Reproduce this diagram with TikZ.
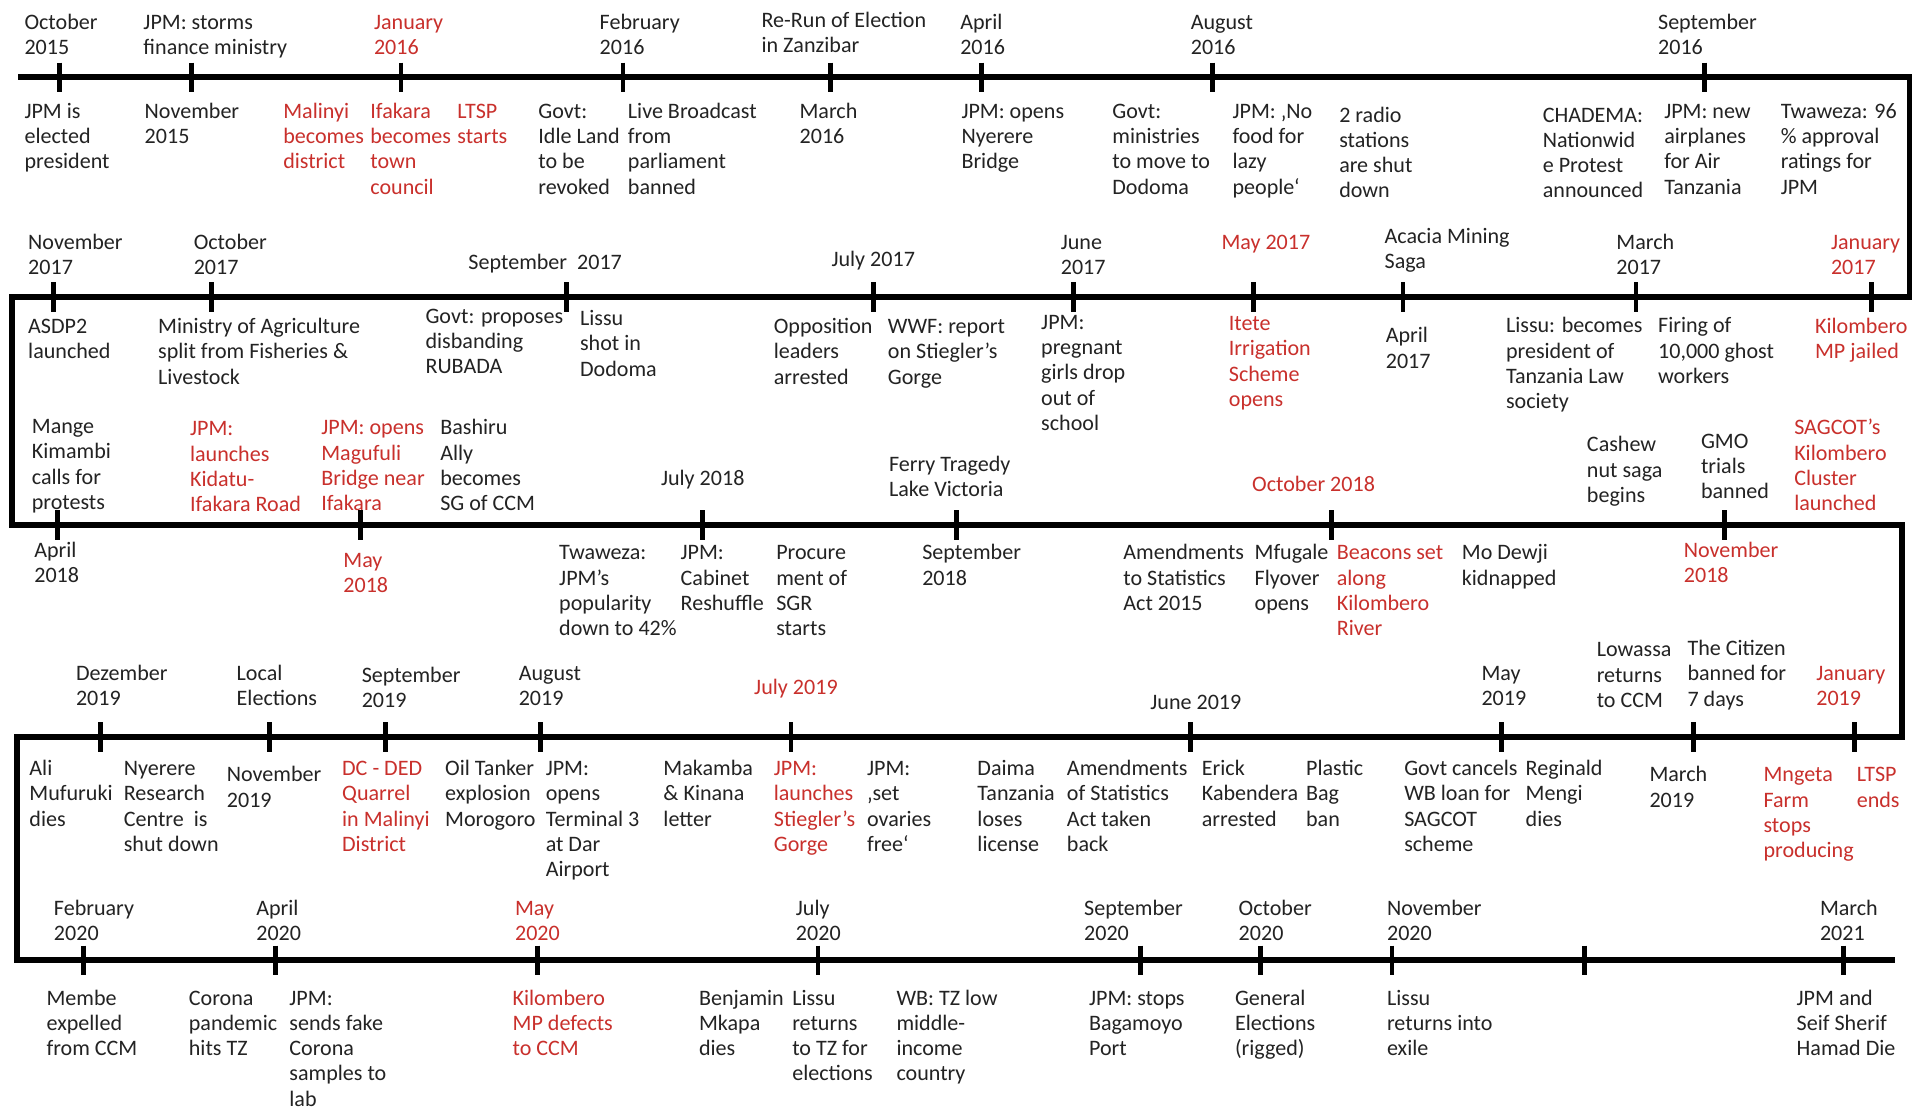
\documentclass[tikz,border=0pt]{standalone}
\usepackage{fontspec}
\setmainfont{Carlito}
\definecolor{ink}{RGB}{35,35,35}
\definecolor{hot}{RGB}{201,48,44}
% multi-line label whose reference point is the first baseline
\newcommand\tl[1]{\begin{tabular}[t]{@{}l@{}}#1\end{tabular}}
\tikzset{
  ev/.style={anchor=base west, inner sep=0pt, outer sep=0pt, text=ink,
             font=\fontsize{9}{10.3}\selectfont},
  evr/.style={ev, text=hot},
  tlpath/.style={line width=2.4pt, draw=black, line join=miter},
  tickmark/.style={line width=2pt, draw=black},
}
\begin{document}
\begin{tikzpicture}[x=0.5pt,y=-0.5pt]
\useasboundingbox[fill=white] (0,0) rectangle (1568,904);

% the snaking time line
\coordinate (c0) at (15,63);
\coordinate (c1) at (1557,63);
\coordinate (c2) at (1557,242);
\coordinate (c3) at (10,242);
\coordinate (c4) at (10,428);
\coordinate (c5) at (1551,428);
\coordinate (c6) at (1551,601);
\coordinate (c7) at (14,601);
\coordinate (c8) at (14,783);
\coordinate (c9) at (1545,783);
\draw[tlpath] (c0) -- (c1) -- (c2) -- (c3) -- (c4) -- (c5) -- (c6) -- (c7) -- (c8) -- (c9);

% month ticks
\foreach \x in {48.5,156,327,508,677,800,989,1390}
  \draw[tickmark] (\x,51) -- (\x,75);
\foreach \x in {43.5,172.5,462,712,875.5,1022,1144,1334,1526}
  \draw[tickmark] (\x,230) -- (\x,254);
\foreach \x in {47,294,573,780,1086,1406}
  \draw[tickmark] (\x,416) -- (\x,440);
\foreach \x in {82,220,314,441,645,971,1224,1381,1512}
  \draw[tickmark] (\x,589) -- (\x,613);
\foreach \x in {68,225,438,667,930,1028,1135,1292,1503}
  \draw[tickmark] (\x,771) -- (\x,795);

% ---- 2015 / 2016 ----
\node[ev]  (a1) at (20,24)    {\tl{October\\2015}};
\node[ev]  (a2) at (117,24)   {\tl{JPM: storms\\finance ministry}};
\node[evr] (a3) at (305,24)   {\tl{January\\2016}};
\node[ev]  (a4) at (489,24)   {\tl{February\\2016}};
\node[ev]  (a5) at (621,22.5) {\tl{Re-Run of Election\\in Zanzibar}};
\node[ev]  (a6) at (783,24)   {\tl{April\\2016}};
\node[ev]  (a7) at (971,24)   {\tl{August\\2016}};
\node[ev]  (a8) at (1352,24)  {\tl{September\\2016}};

\node[ev]  (b1)  at (20,96.5)   {\tl{JPM is\\elected\\president}};
\node[ev]  (b2)  at (118,96.5)  {\tl{November\\2015}};
\node[evr] (b3)  at (231,96.5)  {\tl{Malinyi\\becomes\\district}};
\node[evr] (b4)  at (302,96.5)  {\tl{Ifakara\\becomes\\town\\council}};
\node[evr] (b5)  at (373,96.5)  {\tl{LTSP\\starts}};
\node[ev]  (b6)  at (439,96.5)  {\tl{Govt:\\Idle Land\\to be\\revoked}};
\node[ev]  (b7)  at (512,96.5)  {\tl{Live Broadcast\\from\\parliament\\banned}};
\node[ev]  (b8)  at (652,96.5)  {\tl{March\\2016}};
\node[ev]  (b9)  at (784,96.5)  {\tl{JPM: opens\\Nyerere\\Bridge}};
\node[ev]  (b10) at (907,96.5)  {\tl{Govt:\\ministries\\to move to\\Dodoma}};
\node[ev]  (b11) at (1005,96.5) {\tl{JPM: ‚No\\food for\\lazy\\people‘}};
\node[ev]  (b12) at (1092,99.5) {\tl{2 radio\\stations\\are shut\\down}};
\node[ev]  (b13) at (1258,99.5) {\tl{CHADEMA:\\Nationwid\\e Protest\\announced}};
\node[ev]  (b14) at (1357,96.5) {\tl{JPM: new\\airplanes\\for Air\\Tanzania}};
\node[ev]  (b15) at (1452,96.5) {\tl{Twaweza: 96\\\% approval\\ratings for\\JPM}};

% ---- 2017 ----
\node[ev]  (c1t) at (23,203.5)   {\tl{November\\2017}};
\node[ev]  (c2t) at (158,203.5)  {\tl{October\\2017}};
\node[ev]  (c3t) at (382,219.5)  {September\ \ 2017};
\node[ev]  (c4t) at (678,217.5)  {July 2017};
\node[ev]  (c5t) at (865,203.5)  {\tl{June\\2017}};
\node[evr] (c6t) at (996,203.5)  {May 2017};
\node[ev]  (c7t) at (1129,198.5) {\tl{Acacia Mining\\Saga}};
\node[ev]  (c8t) at (1318,203.5) {\tl{March\\2017}};
\node[evr] (c9t) at (1493,203.5) {\tl{January\\2017}};

\node[ev]  (d1)  at (23,272)    {\tl{ASDP2\\launched}};
\node[ev]  (d2)  at (129,272)   {\tl{Ministry of Agriculture\\split from Fisheries \&\\Livestock}};
\node[ev]  (d3)  at (347,263.5) {\tl{Govt: proposes\\disbanding\\RUBADA}};
\node[ev]  (d4)  at (473,265.5) {\tl{Lissu\\shot in\\Dodoma}};
\node[ev]  (d5)  at (631,272)   {\tl{Opposition\\leaders\\arrested}};
\node[ev]  (d6)  at (724,272)   {\tl{WWF: report\\on Stiegler’s\\Gorge}};
\node[ev]  (d7)  at (849,268.5) {\tl{JPM:\\pregnant\\girls drop\\out of\\school}};
\node[evr] (d8)  at (1002,269.5){\tl{Itete\\Irrigation\\Scheme\\opens}};
\node[ev]  (d9)  at (1130,279.5){\tl{April\\2017}};
\node[ev]  (d10) at (1228,271.5){\tl{Lissu: becomes\\president of\\Tanzania Law\\society}};
\node[ev]  (d11) at (1352,271.5){\tl{Firing of\\10,000 ghost\\workers}};
\node[evr] (d12) at (1480,272)  {\tl{Kilombero\\MP jailed}};

% ---- 2018 ----
\node[ev]  (e1)  at (26,353.5)   {\tl{Mange\\Kimambi\\calls for\\protests}};
\node[evr] (e2)  at (155,355.5)  {\tl{JPM:\\launches\\Kidatu-\\Ifakara Road}};
\node[evr] (e3)  at (262,354.5)  {\tl{JPM: opens\\Magufuli\\Bridge near\\Ifakara}};
\node[ev]  (e4)  at (359,354.5)  {\tl{Bashiru\\Ally\\becomes\\SG of CCM}};
\node[ev]  (e5)  at (539,395.5)  {July 2018};
\node[ev]  (e6)  at (725,384.5)  {\tl{Ferry Tragedy\\Lake Victoria}};
\node[evr] (e7)  at (1021,400.5) {October 2018};
\node[ev]  (e8)  at (1294,368.5) {\tl{Cashew\\nut saga\\begins}};
\node[ev]  (e9)  at (1387,365.5) {\tl{GMO\\trials\\banned}};
\node[evr] (e10) at (1463,354.5) {\tl{SAGCOT’s\\Kilombero\\Cluster\\launched}};

\node[ev]  (f1)  at (28,454.5)   {\tl{April\\2018}};
\node[evr] (f2)  at (280,462.5)  {\tl{May\\2018}};
\node[ev]  (f3)  at (456,456.5)  {\tl{Twaweza:\\JPM’s\\popularity\\down to 42\%}};
\node[ev]  (f4)  at (555,456.5)  {\tl{JPM:\\Cabinet\\Reshuffle}};
\node[ev]  (f5)  at (633,456.5)  {\tl{Procure\\ment of\\SGR\\starts}};
\node[ev]  (f6)  at (752,456.5)  {\tl{September\\2018}};
\node[ev]  (f7)  at (916,456.5)  {\tl{Amendments\\to Statistics\\Act 2015}};
\node[ev]  (f8)  at (1023,456.5) {\tl{Mfugale\\Flyover\\opens}};
\node[evr] (f9)  at (1090,456.5) {\tl{Beacons set\\along\\Kilombero\\River}};
\node[ev]  (f10) at (1192,456.5) {\tl{Mo Dewji\\kidnapped}};
\node[evr] (f11) at (1373,454.5) {\tl{November\\2018}};

% ---- 2019 ----
\node[ev]  (g1)  at (62,554.5)   {\tl{Dezember\\2019}};
\node[ev]  (g2)  at (193,554.5)  {\tl{Local\\Elections}};
\node[ev]  (g3)  at (295,556.5)  {\tl{September\\2019}};
\node[ev]  (g4)  at (423,554.5)  {\tl{August\\2019}};
\node[evr] (g5)  at (615,566.5)  {July 2019};
\node[ev]  (g6)  at (938,578.5)  {June 2019};
\node[ev]  (g7)  at (1208,554.5) {\tl{May\\2019}};
\node[ev]  (g8)  at (1302,535.5) {\tl{Lowassa\\returns\\to CCM}};
\node[ev]  (g9)  at (1376,534.5) {\tl{The Citizen\\banned for\\7 days}};
\node[evr] (g10) at (1481,554.5) {\tl{January\\2019}};

\node[ev]  (h1)  at (24,632.5)   {\tl{Ali\\Mufuruki\\dies}};
\node[ev]  (h2)  at (101,632.5)  {\tl{Nyerere\\Research\\Centre\ \ is\\shut down}};
\node[ev]  (h3)  at (185,637.5)  {\tl{November\\2019}};
\node[evr] (h4)  at (279,632.5)  {\tl{DC - DED\\Quarrel\\in Malinyi\\District}};
\node[ev]  (h5)  at (363,632.5)  {\tl{Oil Tanker\\explosion\\Morogoro}};
\node[ev]  (h6)  at (445,632.5)  {\tl{JPM:\\opens\\Terminal 3\\at Dar\\Airport}};
\node[ev]  (h7)  at (541,632.5)  {\tl{Makamba\\\& Kinana\\letter}};
\node[evr] (h8)  at (631,632.5)  {\tl{JPM:\\launches\\Stiegler’s\\Gorge}};
\node[ev]  (h9)  at (707,632.5)  {\tl{JPM:\\‚set\\ovaries\\free‘}};
\node[ev]  (h10) at (797,632.5)  {\tl{Daima\\Tanzania\\loses\\license}};
\node[ev]  (h11) at (870,632.5)  {\tl{Amendments\\of Statistics\\Act taken\\back}};
\node[ev]  (h12) at (980,632.5)  {\tl{Erick\\Kabendera\\arrested}};
\node[ev]  (h13) at (1065,632.5) {\tl{Plastic\\Bag\\ban}};
\node[ev]  (h14) at (1145,632.5) {\tl{Govt cancels\\WB loan for\\SAGCOT\\scheme}};
\node[ev]  (h15) at (1244,632.5) {\tl{Reginald\\Mengi\\dies}};
\node[ev]  (h16) at (1345,637.5) {\tl{March\\2019}};
\node[evr] (h17) at (1438,637.5) {\tl{Mngeta\\Farm\\stops\\producing}};
\node[evr] (h18) at (1514,637.5) {\tl{LTSP\\ends}};

% ---- 2020 / 2021 ----
\node[ev]  (i1) at (44,746.5)   {\tl{February\\2020}};
\node[ev]  (i2) at (209,746.5)  {\tl{April\\2020}};
\node[evr] (i3) at (420,746.5)  {\tl{May\\2020}};
\node[ev]  (i4) at (649,746.5)  {\tl{July\\2020}};
\node[ev]  (i5) at (884,746.5)  {\tl{September\\2020}};
\node[ev]  (i6) at (1010,746.5) {\tl{October\\2020}};
\node[ev]  (i7) at (1131,746.5) {\tl{November\\2020}};
\node[ev]  (i8) at (1484,746.5) {\tl{March\\2021}};

\node[ev]  (j1)  at (38,819.5)   {\tl{Membe\\expelled\\from CCM}};
\node[ev]  (j2)  at (154,819.5)  {\tl{Corona\\pandemic\\hits TZ}};
\node[ev]  (j3)  at (236,819.5)  {\tl{JPM:\\sends fake\\Corona\\samples to\\lab}};
\node[evr] (j4)  at (418,819.5)  {\tl{Kilombero\\MP defects\\to CCM}};
\node[ev]  (j5)  at (570,819.5)  {\tl{Benjamin\\Mkapa\\dies}};
\node[ev]  (j6)  at (646,819.5)  {\tl{Lissu\\returns\\to TZ for\\elections}};
\node[ev]  (j7)  at (731,819.5)  {\tl{WB: TZ low\\middle-\\income\\country}};
\node[ev]  (j8)  at (888,819.5)  {\tl{JPM: stops\\Bagamoyo\\Port}};
\node[ev]  (j9)  at (1007,819.5) {\tl{General\\Elections\\(rigged)}};
\node[ev]  (j10) at (1131,819.5) {\tl{Lissu\\returns into\\exile}};
\node[ev]  (j11) at (1465,819.5) {\tl{JPM and\\Seif Sherif\\Hamad Die}};
\end{tikzpicture}
\end{document}
